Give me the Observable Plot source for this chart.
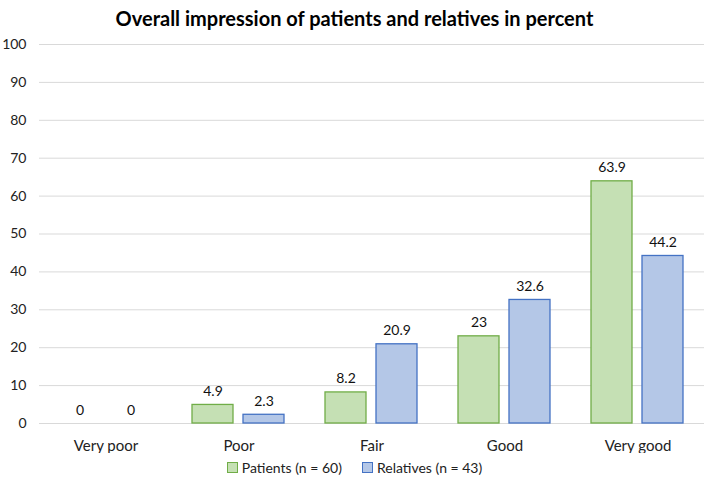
<!DOCTYPE html>
<html>
<head>
<meta charset="utf-8">
<script src="https://cdn.jsdelivr.net/npm/d3@7"></script>
<script src="https://cdn.jsdelivr.net/npm/@observablehq/plot@0.6"></script>
<style>
  body { margin: 0; background: #fff; font-family: Lato, "Open Sans", sans-serif; }
  #title { height: 34px; line-height: 36px; text-align: center; font-weight: bold; font-size: 20px; color: #000; }
  #legend { display: flex; justify-content: center; gap: 20px; font-size: 14px; color: #222; margin-top: 6px; }
  .item { display: flex; align-items: center; gap: 4px; }
  .sw { width: 9px; height: 9px; display: inline-block; }
</style>
</head>
<body>
<div id="title">Overall impression of patients and relatives in percent</div>
<div id="chart"></div>
<div id="legend"></div>
<script>
const categories = ["Very poor", "Poor", "Fair", "Good", "Very good"];
const series = ["Patients (n = 60)", "Relatives (n = 43)"];
const patients = [0, 4.9, 8.2, 23, 63.9];
const relatives = [0, 2.3, 20.9, 32.6, 44.2];
const yTicks = [0, 10, 20, 30, 40, 50, 60, 70, 80, 90, 100];
const fills = ["#c5e0b4", "#b4c7e7"];
const strokes = ["#70ad47", "#4472c4"];

const data = [];
categories.forEach((c, i) => {
  data.push({category: c, series: series[0], value: patients[i]});
  data.push({category: c, series: series[1], value: relatives[i]});
});

const chart = Plot.plot({
  width: 709,
  height: 419,
  marginTop: 10,
  marginBottom: 30,
  marginLeft: 37,
  marginRight: 4,
  style: {fontFamily: "Lato, 'Open Sans', sans-serif", fontSize: "14px", color: "#222", background: "#fff"},
  fx: {domain: categories, padding: 0, label: null},
  x: {domain: series, paddingInner: 0.19, paddingOuter: 0.38, axis: null},
  y: {domain: [0, 100], label: null},
  color: {domain: series, range: fills},
  marks: [
    Plot.ruleY(yTicks, {stroke: "#d9d9d9", strokeWidth: 1}),
    Plot.axisY({ticks: yTicks, tickSize: 0, tickPadding: 13, tickFormat: d => d, label: null, fontSize: 14}),
    Plot.axisFx({anchor: "bottom", tickSize: 0, tickPadding: 17, label: null, fontSize: 15}),
    Plot.barY(data, {fx: "category", x: "series", y: "value", fill: "series",
      stroke: d => strokes[series.indexOf(d.series)], strokeWidth: 1.3}),
    Plot.text(data, {fx: "category", x: "series", y: "value", text: d => String(d.value),
      dy: -9, lineAnchor: "bottom", fontSize: 14, fill: "#111"})
  ]
});
document.getElementById("chart").appendChild(chart);

const legend = document.getElementById("legend");
series.forEach((s, i) => {
  const it = document.createElement("div");
  it.className = "item";
  const sw = document.createElement("span");
  sw.className = "sw";
  sw.style.background = fills[i];
  sw.style.border = "1px solid " + strokes[i];
  it.appendChild(sw);
  const t = document.createElement("span");
  t.textContent = s;
  it.appendChild(t);
  legend.appendChild(it);
});
</script>
</body>
</html>
